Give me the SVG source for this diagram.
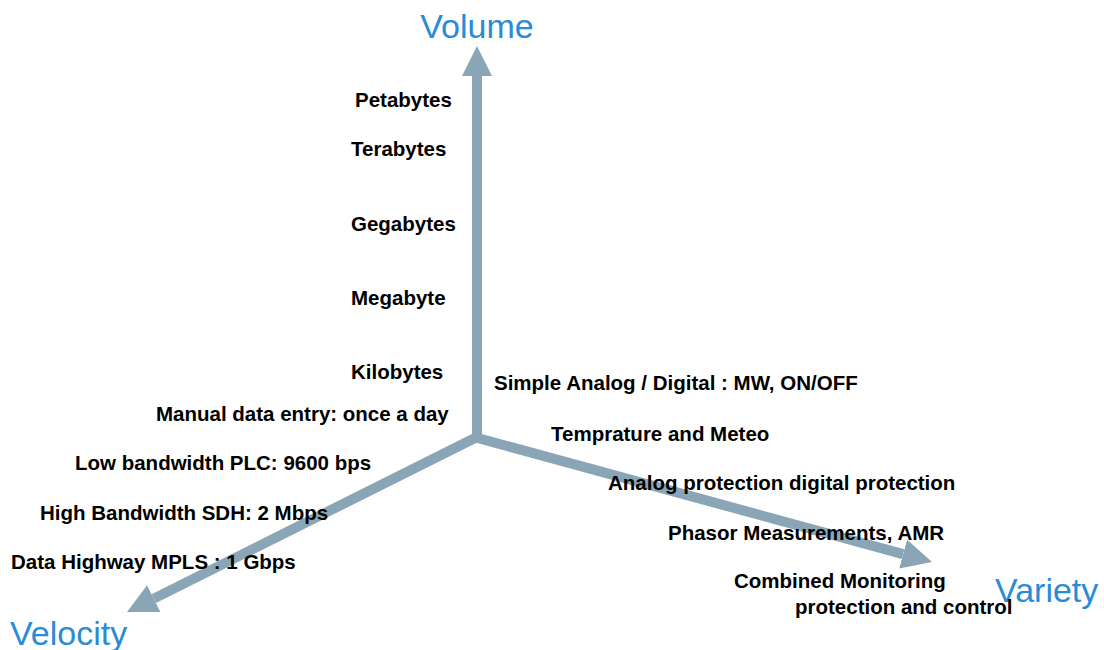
<svg xmlns="http://www.w3.org/2000/svg" width="1104" height="650" viewBox="0 0 1104 650">
<style>
.ax{stroke:#8aa6b6;stroke-width:10;fill:none;marker-end:url(#ah)}
.lb{font-family:"Liberation Sans",Arial,sans-serif;font-weight:bold;font-size:20.5px;fill:#000}
.tt{font-family:"Liberation Sans",Arial,sans-serif;font-size:34px;fill:#2a8bd6}
</style>
<defs>
<marker id="ah" markerUnits="userSpaceOnUse" markerWidth="30" markerHeight="30" refX="0" refY="15" orient="auto" viewBox="0 0 30 30">
<path d="M0,0 L30,15 L0,30 z" fill="#8aa6b6"/>
</marker>
</defs>
<g id="connectors">
<line class="ax" x1="477" y1="441" x2="477" y2="76"/>
<line class="ax" x1="477" y1="437" x2="153.8" y2="598.6"/>
<line class="ax" x1="474" y1="437" x2="903.1" y2="554.1"/>
</g>
<g id="volume"><text class="tt" x="477" y="38" text-anchor="middle">Volume</text></g>
<g id="velocity"><text class="tt" x="10" y="645">Velocity</text></g>
<g id="variety"><text class="tt" x="995" y="602">Variety</text></g>
<g id="volume-labels">
<text class="lb" x="355" y="107">Petabytes</text>
<text class="lb" x="351" y="156">Terabytes</text>
<text class="lb" x="351" y="231">Gegabytes</text>
<text class="lb" x="351" y="305">Megabyte</text>
<text class="lb" x="351" y="379">Kilobytes</text>
</g>
<g id="velocity-labels">
<text class="lb" x="156" y="421">Manual data entry: once a day</text>
<text class="lb" x="75" y="470">Low bandwidth PLC: 9600 bps</text>
<text class="lb" x="40" y="520">High Bandwidth SDH: 2 Mbps</text>
<text class="lb" x="11" y="569">Data Highway MPLS : 1 Gbps</text>
</g>
<g id="variety-labels">
<text class="lb" x="494" y="390">Simple Analog / Digital : MW, ON/OFF</text>
<text class="lb" x="551" y="441">Temprature and Meteo</text>
<text class="lb" x="608" y="490">Analog protection digital protection</text>
<text class="lb" x="668" y="540">Phasor Measurements, AMR</text>
<text class="lb" x="734" y="588">Combined Monitoring</text>
<text class="lb" x="795" y="614">protection and control</text>
</g>
</svg>
